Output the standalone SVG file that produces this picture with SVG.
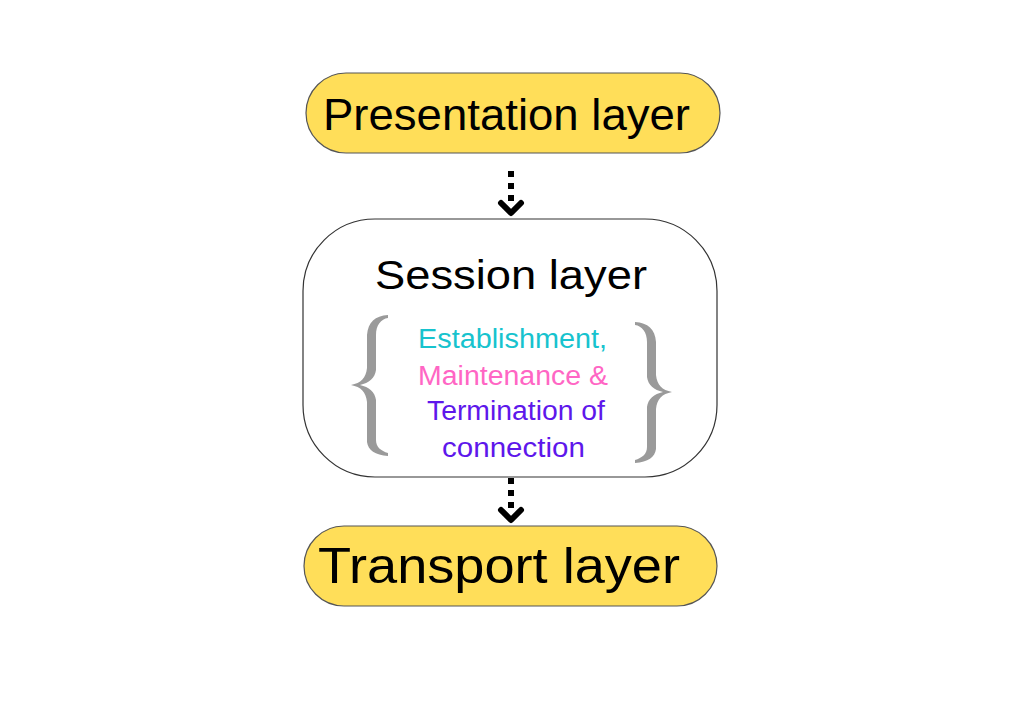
<svg xmlns="http://www.w3.org/2000/svg" width="1024" height="724" viewBox="0 0 1024 724">
<style>
.pill{fill:#ffde59;stroke:#555;stroke-width:1.2}
.box{fill:#fff;stroke:#333;stroke-width:1.2}
.t{font-family:"Liberation Sans",Arial,sans-serif;fill:#000}
.s{font-family:"Liberation Sans",Arial,sans-serif;font-size:27px;text-anchor:middle}
.dot{stroke:#000;stroke-width:6;stroke-dasharray:6 6;fill:none}
.head{stroke:#000;stroke-width:6;fill:none;stroke-linecap:round;stroke-linejoin:round}
.brace{fill:#9a9a9a}
</style>
<rect width="1024" height="724" fill="#fff"/>
<g id="presentation">
<rect class="pill" x="306" y="73" width="414" height="80" rx="40"/>
<text class="t" x="323" y="130" font-size="44" textLength="367" lengthAdjust="spacingAndGlyphs">Presentation layer</text>
</g>
<g id="session">
<rect class="box" x="303" y="219" width="414" height="258" rx="72"/>
<text class="t" x="375" y="289" font-size="40" textLength="272" lengthAdjust="spacingAndGlyphs">Session layer</text>
<path class="brace" d="M388,315 C375,316 368,322 367,335 L367,368 C366,378 361,383 351,385 C361,387 366,392 367,402 L367,442 C368,450 375,455 388,456 L388,453 C381,451 376,447 376,440 L376,400 C375,392 369,387 360,385 C369,383 375,378 376,370 L376,335 C376,325 381,319 388,318 Z"/>
<path class="brace" transform="translate(1023,7) scale(-1,1)" d="M388,315 C375,316 368,322 367,335 L367,368 C366,378 361,383 351,385 C361,387 366,392 367,402 L367,442 C368,450 375,455 388,456 L388,453 C381,451 376,447 376,440 L376,400 C375,392 369,387 360,385 C369,383 375,378 376,370 L376,335 C376,325 381,319 388,318 Z"/>
<text class="s" x="512.5" y="348" fill="#17c3ce" textLength="189" lengthAdjust="spacingAndGlyphs">Establishment,</text>
<text class="s" x="513" y="385" fill="#ff66c4" textLength="190" lengthAdjust="spacingAndGlyphs">Maintenance &amp;</text>
<text class="s" x="516" y="420" fill="#5e17eb" textLength="178" lengthAdjust="spacingAndGlyphs">Termination of</text>
<text class="s" x="513.5" y="457" fill="#5e17eb" textLength="143" lengthAdjust="spacingAndGlyphs">connection</text>
</g>
<g id="connectors">
<line class="dot" x1="511" y1="171" x2="511" y2="207"/>
<path class="head" d="M501,203 L511,213 L521,203"/>
<line class="dot" x1="511" y1="478" x2="511" y2="514"/>
<path class="head" d="M501,510 L511,520 L521,510"/>
</g>
<g id="transport">
<rect class="pill" x="304" y="526" width="413" height="80" rx="40"/>
<text class="t" x="318" y="583" font-size="50" textLength="362" lengthAdjust="spacingAndGlyphs">Transport layer</text>
</g>
</svg>
